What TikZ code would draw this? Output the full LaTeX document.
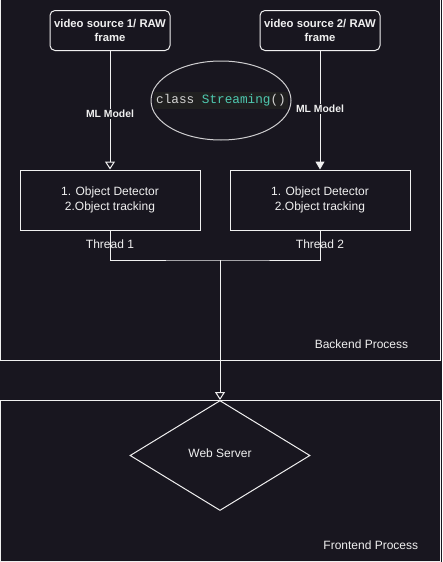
\documentclass[tikz,border=0pt]{standalone}
\usepackage{fontspec}
\setmainfont{Liberation Sans}
\newfontfamily\codefont{Liberation Mono}
\usetikzlibrary{arrows.meta, positioning, shapes.geometric}

\definecolor{bgdark}{HTML}{18161F}
\definecolor{linewhite}{HTML}{F0F0F0}
\definecolor{codebg}{HTML}{202020}
\definecolor{codegray}{HTML}{D4D4D4}
\definecolor{codeteal}{HTML}{4EC9B0}

\begin{document}
\begin{tikzpicture}[x = 1pt, y = -1pt, line width = 1pt,
        every node/.style = {text=linewhite, font=\fontsize{12}{15}\selectfont},
        srcbox/.style = {draw=linewhite, rounded corners=5, minimum width=120pt, minimum height=40pt,
            align=center, inner sep=0pt, font=\fontsize{11.3}{14.5}\selectfont\bfseries},
        threadbox/.style = {draw=linewhite, minimum width=180pt, minimum height=60pt, align=center, inner sep=0pt},
        mllabel/.style = {fill=bgdark, inner sep=1pt, font=\fontsize{10.4}{12}\selectfont\bfseries},
        openarrow/.style = {draw=linewhite, -{Triangle[open, length=8pt, width=10pt]}},
        fullarrow/.style = {draw=linewhite, -{Triangle[length=8pt, width=9pt]}}]

            % background and page size
            \fill[bgdark] (0,0) rectangle (442,562);
            \useasboundingbox (0,0) rectangle (442,562);

            % process frames
            \draw[linewhite] (0.5,-3) rectangle (440.5,360)
                node[anchor=base east] (backend) at (412,348) {Backend Process};
            \draw[linewhite] (0.5,400.5) rectangle (440.5,561)
                node[anchor=base east] (frontend) at (422,549) {Frontend Process};

            % sources
            \node[srcbox] (src1) at (110,30.5) {video source 1/ RAW\\frame};
            \node[srcbox] (src2) at (320,30.5) {video source 2/ RAW\\frame};

            \node[draw=linewhite!85!bgdark, ellipse, minimum width=140pt, minimum height=79pt, inner sep=0pt]
                (streaming) at (221,100.5) {};
            \node[fill=codebg, inner xsep=2pt, inner ysep=3pt, font=\fontsize{12.7}{15}\selectfont\codefont]
                (code) at (streaming.center)
                {\textcolor{codegray}{class }\textcolor{codeteal}{Streaming}\textcolor{codegray}{()}};

            % threads
            \node[threadbox] (obj1) at (110,200) {1. Object Detector\\2.Object tracking};
            \node[threadbox] (obj2) at (320,200) {1. Object Detector\\2.Object tracking};

            \draw[openarrow] (src1) -- (obj1);
            \draw[fullarrow] (src2) -- (obj2);
            \node[mllabel] (ml1) at (110,114) {ML Model};
            \node[mllabel] (ml2) at (320,109) {ML Model};

            % frontend
            \node[draw=linewhite, diamond, minimum width=180pt, minimum height=110pt, inner sep=0pt]
                (server) at (220,455.5) {};
            \node (serverlabel) at (220,453) {Web Server};

            \coordinate (join) at (220,260);
            \draw[linewhite] (obj1.south) |- (join) -| (obj2.south);
            \draw[openarrow] (join) -- (server.north);

            \node (thread1) at (110,244) {Thread 1};
            \node (thread2) at (320,244) {Thread 2};
        \end{tikzpicture}
\end{document}
